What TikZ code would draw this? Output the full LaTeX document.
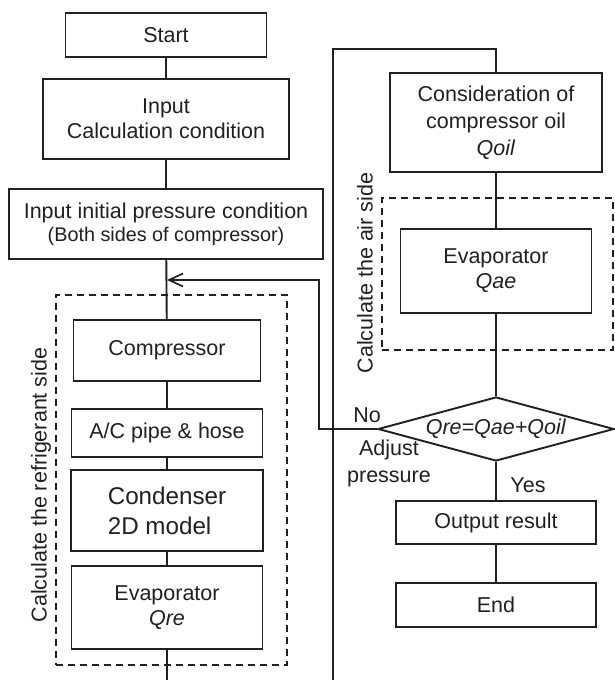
\documentclass[tikz,border=0pt]{standalone}
\usepackage{fontspec}
\setmainfont{Liberation Sans}
\usetikzlibrary{arrows.meta, positioning, shapes.geometric}
\definecolor{chartInk}{HTML}{231F20}

\begin{document}
\begin{tikzpicture}[
  x=1pt, y=-1pt,
  color=chartInk,
  font=\fontsize{21.5}{25}\selectfont,
  line width=1.9pt,
  stepbox/.style={draw, align=center, inner sep=0pt},
  areabox/.style={draw, dash pattern=on 7pt off 5pt, line width=1.6pt, inner sep=0pt},
  decide/.style={draw, diamond, aspect=3.7, inner sep=0pt,
                 minimum width=236, minimum height=64},
  sidelabel/.style={rotate=90},
  back/.style={-{Straight Barb[length=14pt,width=13pt]}, line width=1.7pt}
]
\useasboundingbox (0,0) rectangle (615,680);

% refrigerant side (left column)
\node[stepbox, minimum width=201, minimum height=44] (start) at (166,35) {Start};
\node[stepbox, minimum width=246, minimum height=80] (calc) at (166,119) {Input\\Calculation condition};
\node[stepbox, minimum width=314, minimum height=70] (init) at (166,224)
  {Input initial pressure condition\\[-2pt]{\fontsize{19.8}{23}\selectfont(Both sides of compressor)}};

\node[areabox, minimum width=231, minimum height=370] (refside) at (171.5,480) {};
\node[sidelabel] (reflbl) at (41,485) {Calculate the refrigerant side};

\node[stepbox, minimum width=187, minimum height=61] (comp) at (167,350.5) {Compressor};
\node[stepbox, minimum width=191, minimum height=48] (pipe) at (167,433) {A/C pipe \& hose};
\node[stepbox, minimum width=192, minimum height=81, align=left,
      font=\fontsize{24.2}{30}\selectfont] (cond) at (167,510.5) {Condenser\\2D model};
\node[stepbox, minimum width=191, minimum height=83] (evre) at (167,607.5) {Evaporator\\\textit{Qre}};

% air side (right column)
\node[stepbox, minimum width=212, minimum height=99, font=\fontsize{21.5}{27}\selectfont]
  (oil) at (496,122.5) {Consideration of\\compressor oil\\\textit{Qoil}};
\node[areabox, minimum width=231, minimum height=152] (airside) at (497.5,274) {};
\node[sidelabel] (airlbl) at (365,273) {Calculate the air side};
\node[stepbox, minimum width=191, minimum height=84] (evae) at (496,271) {Evaporator\\\textit{Qae}};

\node[decide] (dec) at (496,429) {\textit{Qre=Qae+Qoil}};
\node[stepbox, minimum width=200, minimum height=43] (outp) at (496,522.5) {Output result};
\node[stepbox, minimum width=200, minimum height=44] (endn) at (496,605) {End};

\node (nolbl) at (367,415) {No};
\node[align=center, font=\fontsize{21.5}{27}\selectfont] (adjlbl) at (389,463) {Adjust\\pressure};
\node (yeslbl) at (528,485) {Yes};

\coordinate (leftfoot) at (167,680);
\coordinate (rightfoot) at (333,680);
\coordinate (rightturn) at (333,49);
\coordinate (notturn) at (319,429);
\coordinate (rejoin) at (167,280);

\foreach \a/\b in {start/calc, calc/init, init/comp, comp/pipe, pipe/cond, cond/evre,
                   oil/evae, evae/dec, dec/outp, outp/endn}
  \draw (\a) -- (\b);
\draw (evre) -- (leftfoot);
\draw (rightfoot) -- (rightturn) -| (oil);
\draw[back] (dec.west) -- (notturn) |- (rejoin);

\end{tikzpicture}
\end{document}
